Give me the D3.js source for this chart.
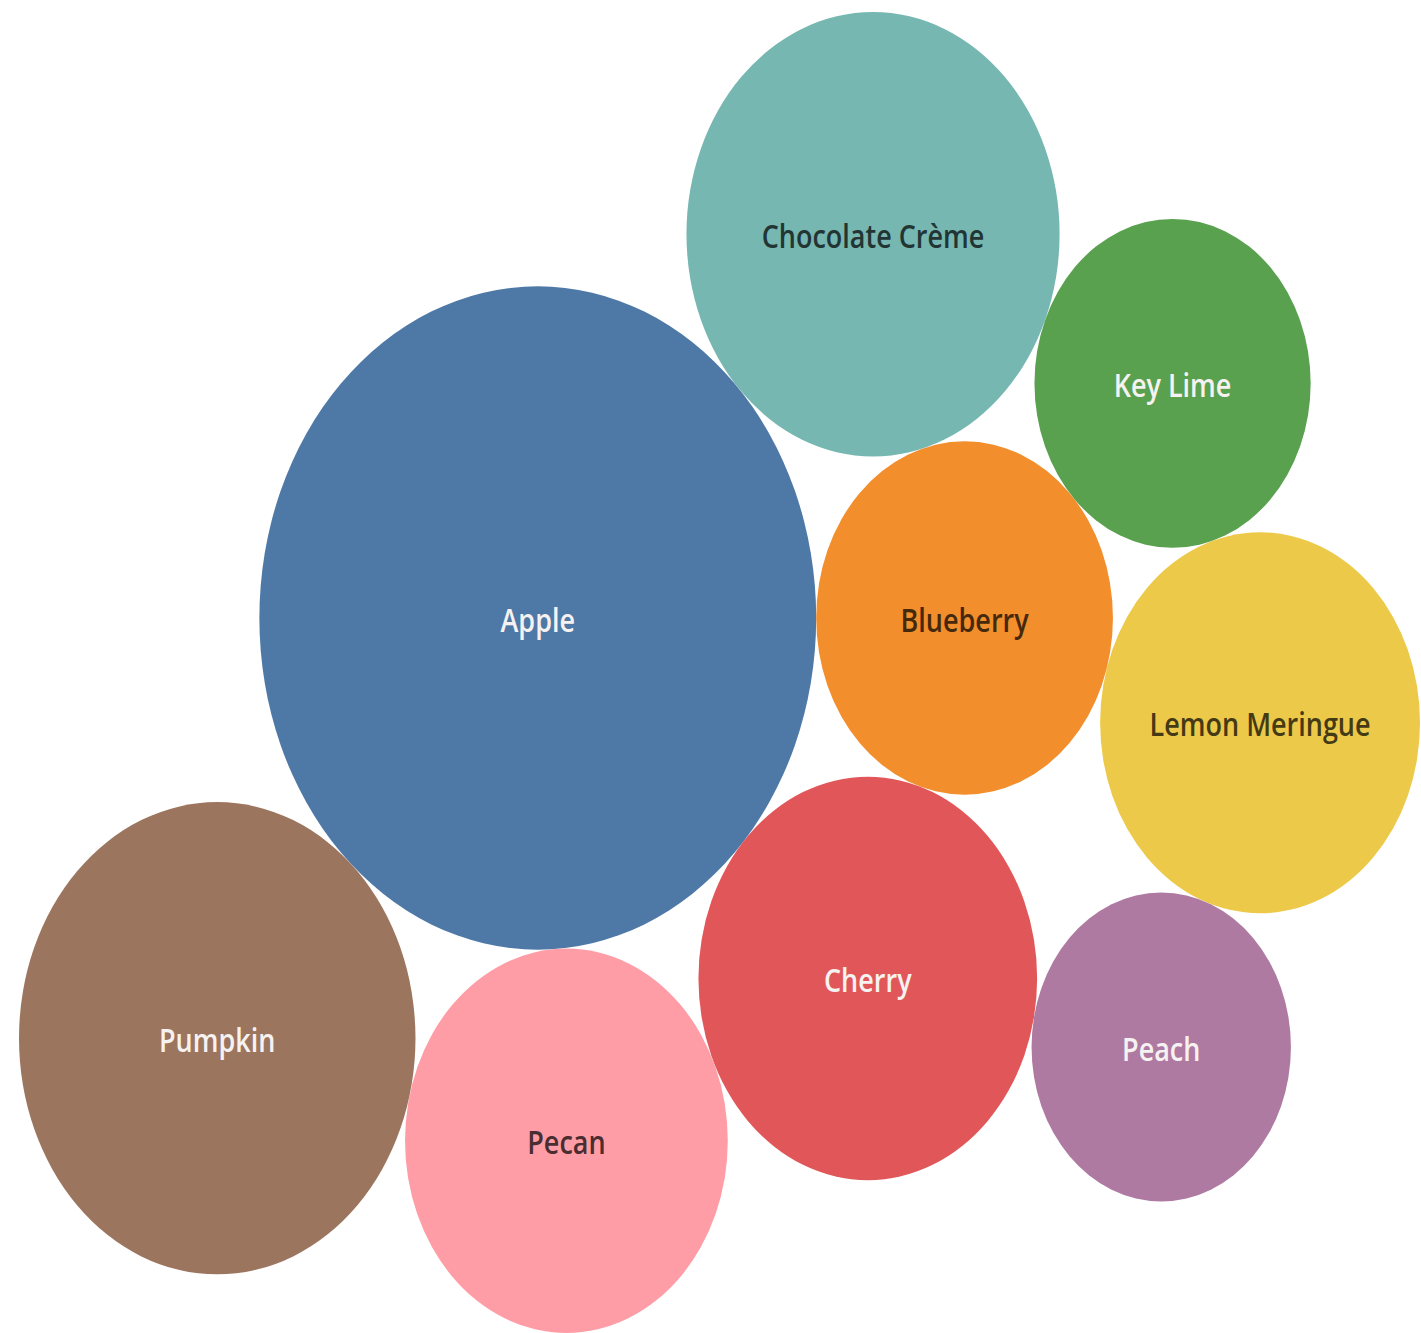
<!DOCTYPE html>
<html>
<head>
<meta charset="utf-8">
<script src="https://cdn.jsdelivr.net/npm/d3@7"></script>
<style>
  html, body { margin: 0; padding: 0; background: #ffffff; }
  svg { display: block; }
</style>
</head>
<body>
<svg id="chart" width="1421" height="1333"></svg>
<script>
// Pie sales, one bubble per pie (alphabetical order is also the packing order)
const pies  = ["Apple", "Blueberry", "Cherry", "Chocolate Crème", "Key Lime",
               "Lemon Meringue", "Peach", "Pecan", "Pumpkin"];
const sales = [100, 28.4, 37.0, 44.9, 24.6, 33.0, 21.7, 33.6, 50.7];

// Packing: which earlier bubbles each bubble is set against
const restsOn = [[], ["Apple"], ["Apple", "Blueberry"], ["Apple", "Blueberry"],
                 ["Chocolate Crème", "Blueberry"], ["Key Lime", "Blueberry"],
                 ["Lemon Meringue", "Cherry"], ["Cherry", "Apple"], ["Apple", "Pecan"]];

const width = 1421, height = 1333;
const svg = d3.select("#chart");

// Bubble area proportional to sales
const radius = d3.scaleSqrt().domain([0, d3.max(sales)]).range([0, 100]);
const color = d3.scaleOrdinal().domain(pies).range(d3.schemeTableau10);

const nodes = pies.map((name, i) => ({ name, value: sales[i], r: radius(sales[i]) }));
const byName = new Map(nodes.map(d => [d.name, d]));

// Front-chain style placement: each bubble touches the two bubbles it rests on,
// on whichever side keeps it clear of the bubbles already placed
function overlaps(c, placed) {
  return placed.some(p => Math.hypot(p.x - c.x, p.y - c.y) < p.r + c.r - 1e-6);
}
const placed = [];
nodes.forEach((n, i) => {
  const anchors = restsOn[i].map(k => byName.get(k));
  if (anchors.length === 0) {
    n.x = 0; n.y = 0;
  } else if (anchors.length === 1) {
    const a = anchors[0];
    n.x = a.x + a.r + n.r; n.y = a.y;
  } else {
    const [a, b] = anchors;
    const dx = b.x - a.x, dy = b.y - a.y, d = Math.hypot(dx, dy);
    const ra = a.r + n.r, rb = b.r + n.r;
    const along = (ra * ra - rb * rb + d * d) / (2 * d);
    const h = Math.sqrt(Math.max(0, ra * ra - along * along));
    const ux = dx / d, uy = dy / d;
    const bx = a.x + along * ux, by = a.y + along * uy;
    const options = [
      { x: bx - h * uy, y: by + h * ux },
      { x: bx + h * uy, y: by - h * ux }
    ].sort((p, q) => q.y - p.y);
    const pick = options.find(p => !overlaps({ ...p, r: n.r }, placed)) || options[0];
    n.x = pick.x; n.y = pick.y;
  }
  placed.push(n);
});

// Fit the packed layout into the view (the view is stretched vertically)
const x = d3.scaleLinear()
  .domain([d3.min(nodes, d => d.x - d.r), d3.max(nodes, d => d.x + d.r)])
  .range([19, 1420]);
const y = d3.scaleLinear()
  .domain([d3.min(nodes, d => d.y - d.r), d3.max(nodes, d => d.y + d.r)])
  .range([12, 1333]);
const kx = (x.range()[1] - x.range()[0]) / (x.domain()[1] - x.domain()[0]);
const ky = (y.range()[1] - y.range()[0]) / (y.domain()[1] - y.domain()[0]);

const g = svg.append("g").selectAll("g")
  .data(nodes)
  .join("g")
  .attr("transform", d => `translate(${x(d.x)},${y(d.y)})`);

g.append("ellipse")
  .attr("rx", d => d.r * kx)
  .attr("ry", d => d.r * ky)
  .attr("fill", d => color(d.name));

// Dark text on light bubbles, white text on darker ones
g.append("text")
  .attr("transform", `scale(1,${ky / kx})`)
  .attr("text-anchor", "middle")
  .attr("dy", "0.42em")
  .style("font-family", "'Open Sans', 'Noto Sans', sans-serif")
  .style("font-size", "27px")
  .style("font-weight", 600)
  .attr("fill", d => {
    const c = color(d.name);
    return d3.lab(c).l > 65 ? d3.color(c).darker(3.5).formatHex() : "#f6f2f2";
  })
  .text(d => d.name);
</script>
</body>
</html>
